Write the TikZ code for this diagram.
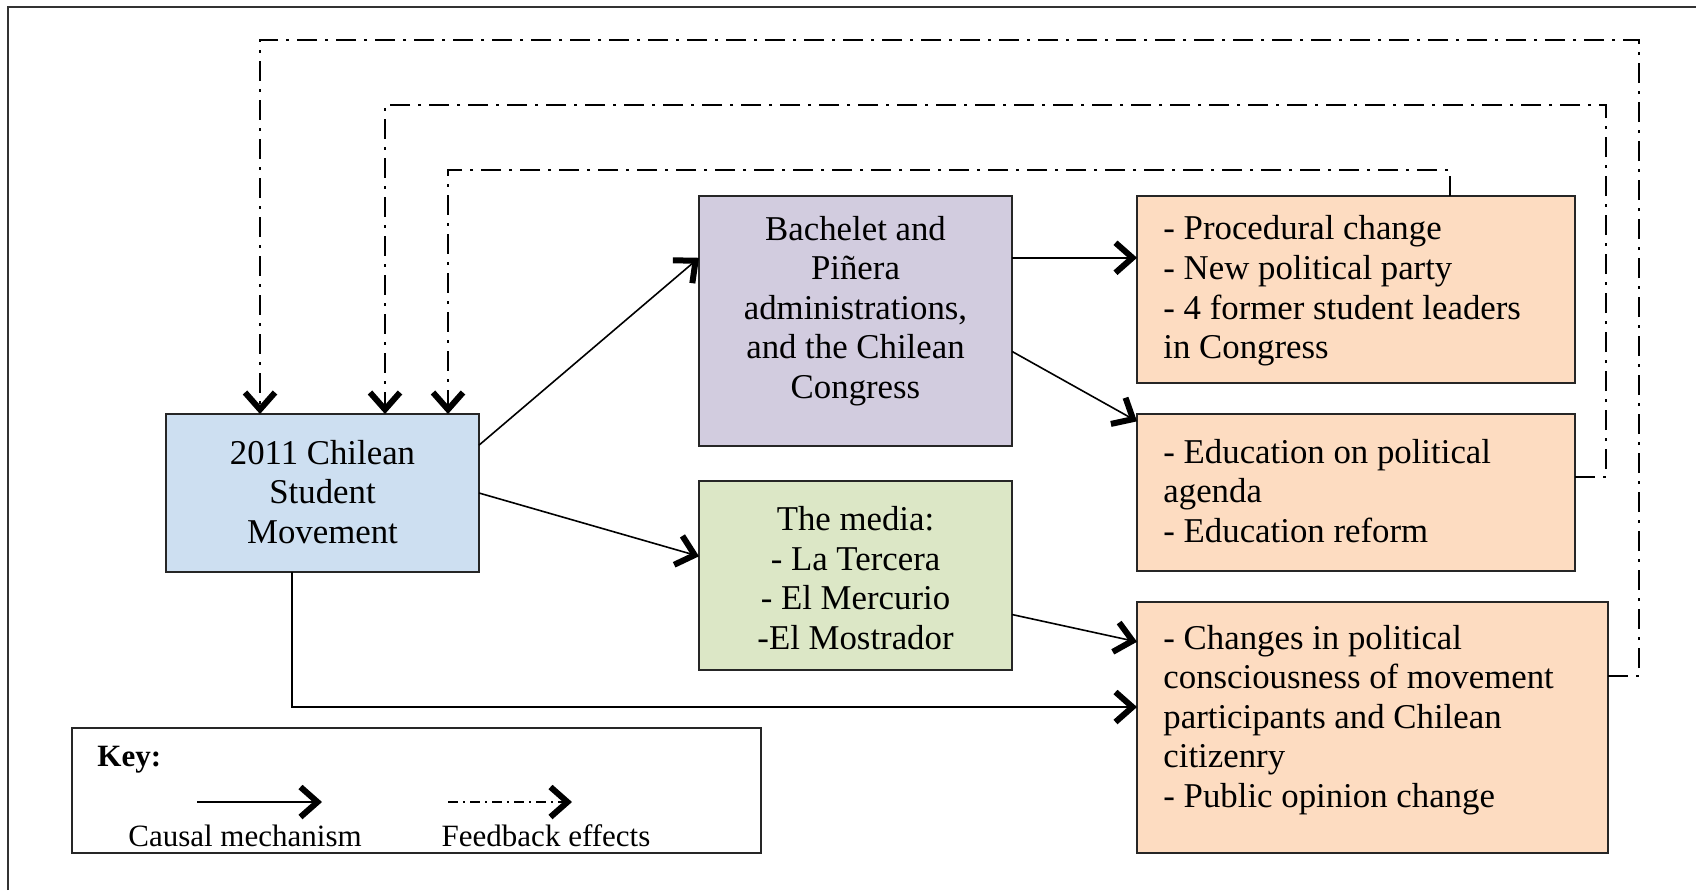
\documentclass[tikz,border=0pt]{standalone}
\usepackage{fontspec}
\setmainfont{Liberation Serif}
\usetikzlibrary{arrows.meta,calc}
\definecolor{cblue}{RGB}{205,223,241}
\definecolor{cpurple}{RGB}{210,204,223}
\definecolor{cgreen}{RGB}{220,231,198}
\definecolor{corange}{RGB}{253,220,193}
\begin{document}
\begin{tikzpicture}[x=0.5pt,y=-0.5pt,
  box/.style={draw=black!85, line width=0.9pt, inner sep=0pt, outer sep=0pt},
  txt/.style={font=\fontsize{17.4}{19.8}\selectfont, inner sep=0pt, align=center},
  ltxt/.style={txt, align=left, anchor=west},
  keytxt/.style={font=\fontsize{15.5}{18}\selectfont, inner sep=0pt},
  tip/.style={-{Straight Barb[length=8.5pt,width=15pt,line width'=3pt]}},
  causal/.style={tip, line width=0.8pt},
  fb/.style={tip, line width=0.9pt, dash pattern=on 10pt off 4pt on 1.5pt off 4pt},
  fbkey/.style={tip, line width=0.8pt, dash pattern=on 5pt off 2.5pt on 1pt off 2.5pt}
]
\useasboundingbox[fill=white] (0,0) rectangle (1696,890);
% page frame
\draw[line width=1pt, black!80] (8,890) -- (8,7) -- (1696,7);

% boxes
\node[box, fill=cblue, minimum width=156.5pt, minimum height=79pt] (stu) at (322.5,493) {};
\node[box, fill=cpurple, minimum width=156.5pt, minimum height=125pt] (bach) at (855.5,321) {};
\node[box, fill=cgreen, minimum width=156.5pt, minimum height=94.5pt] (media) at (855.5,575.5) {};
\node[box, fill=corange, minimum width=219pt, minimum height=93.5pt] (proc) at (1356,289.5) {};
\node[box, fill=corange, minimum width=219pt, minimum height=78.5pt] (edu) at (1356,492.5) {};
\node[box, fill=corange, minimum width=235.5pt, minimum height=125.5pt] (chg) at (1372.5,727.5) {};
\node[box, fill=white, minimum width=344.5pt, minimum height=62.5pt] (key) at (416.5,790.5) {};

% texts
\node[txt] (stutxt) at (322.5,492) {2011 Chilean\\Student\\Movement};
\node[txt] (bachtxt) at (855.5,311) {Bachelet and\\Piñera\\administrations,\\and the Chilean\\Congress};
\node[txt] (mediatxt) at (855.5,578) {The media:\\- La Tercera\\- El Mercurio\\-El Mostrador};
\node[ltxt] (proctxt) at (1163,291) {- Procedural change\\- New political party\\- 4 former student leaders\\in Congress};
\node[ltxt] (edutxt) at (1163,491) {- Education on political\\agenda\\- Education reform};
\node[ltxt] (chgtxt) at (1163,720) {- Changes in political\\consciousness of movement\\participants and Chilean\\citizenry\\- Public opinion change};

% causal connectors
\draw[causal] (stu.17.7) -- (bach.158.8);
\draw[causal] (stu.east) -- (media.173.3);
\draw[causal] (bach.22.2) -- (bach.22.2 -| proc.west);
\draw[causal] (bach.-11.6) -- (edu.162.6);
\draw[causal] (media.-14.5) -- (chg.160.7);
\draw[causal] ([xshift=-15.25pt]stu.south) |- ([yshift=10.25pt]chg.west);

% feedback connectors
\coordinate (o1) at (1639,40);
\coordinate (m1) at (1606,105);
\coordinate (i1) at (1450,170);
\draw[fb] ([yshift=25.75pt]chg.east) -| (o1) -| ([xshift=-31.25pt]stu.north);
\draw[fb] ([yshift=7.75pt]edu.east) -| (m1) -| ([xshift=31.25pt]stu.north);
\draw[fb] ([xshift=47pt]proc.north) -- (i1) -| ([xshift=62.75pt]stu.north);

% key
\node[keytxt, font=\bfseries\fontsize{15.5}{18}\selectfont, anchor=west] (keyhead) at (97,760) {Key:};
\coordinate (k1) at (197,802);
\coordinate (k2) at (322,802);
\coordinate (k3) at (448,802);
\coordinate (k4) at (572,802);
\draw[causal] (k1) -- (k2);
\draw[fbkey] (k3) -- (k4);
\node[keytxt] (keyc) at (245,836) {Causal mechanism};
\node[keytxt] (keyf) at (546,836) {Feedback effects};
\end{tikzpicture}
\end{document}
